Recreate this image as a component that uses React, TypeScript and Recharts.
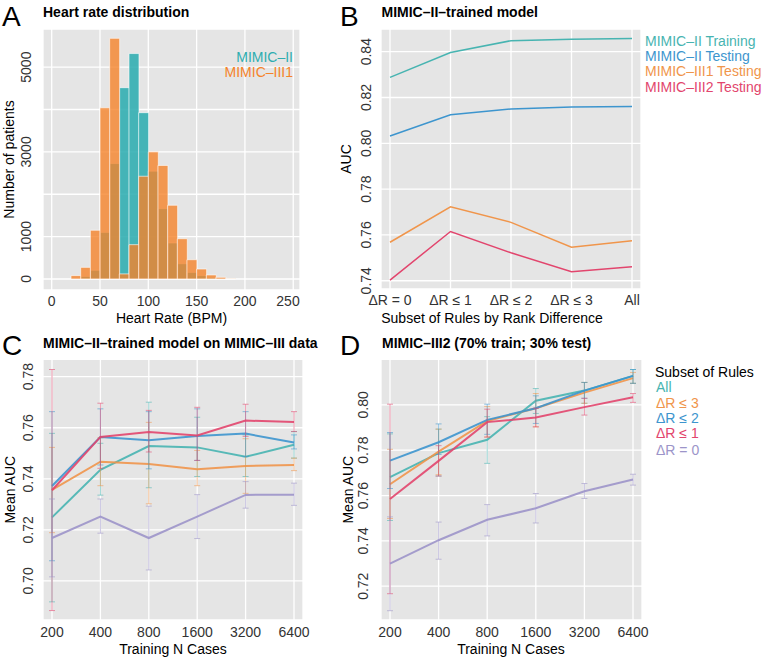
import React from 'react';
import { ComposedChart, LineChart, Line, Bar, XAxis, YAxis, CartesianGrid, ErrorBar } from 'recharts';

const FONT = '"Liberation Sans", Arial, Helvetica, sans-serif';
const PANEL_BG = '#E5E5E5';
const TICK_COLOR = '#333333';

const TEAL = '#47B4B1';
const BLUE = '#3D95CE';
const ORANGE = '#F0954B';
const PINK = '#E2456D';
const PURPLE = '#9C94C9';

// --- A: heart rate histogram (10 BPM bins) ---
const hrBinStart = [20, 30, 40, 50, 60, 70, 80, 90, 100, 110, 120, 130, 140, 150, 160, 170, 180];
const mimic2Counts = [10, 60, 205, 1100, 2725, 4515, 5320, 3925, 2545, 1660, 850, 360, 155, 80, 30, 10, 3];
const mimic3Counts = [80, 275, 1150, 4040, 5680, 120, 810, 2425, 3000, 2680, 1740, 950, 455, 235, 95, 40, 8];
const hrTicks = [0, 50, 100, 150, 200, 250];
const countTicks = [0, 1000, 2000, 3000, 4000, 5000];
const countTickLabels = ['0', '1000', '', '3000', '', '5000'];

// --- B: AUC by rule subset ---
const ruleSubsets = ['ΔR = 0', 'ΔR ≤ 1', 'ΔR ≤ 2', 'ΔR ≤ 3', 'All'];
const m2Training = [0.8288, 0.8396, 0.8448, 0.8454, 0.8457];
const m2Testing = [0.8032, 0.8125, 0.815, 0.8158, 0.8161];
const m3Testing1 = [0.7568, 0.7723, 0.7655, 0.7546, 0.7575];
const m3Testing2 = [0.7403, 0.7615, 0.7522, 0.7439, 0.7461];
const aucTicksB = [0.74, 0.76, 0.78, 0.8, 0.82, 0.84];

// --- C / D: mean AUC vs training size ---
const trainingN = ['200', '400', '800', '1600', '3200', '6400'];
const subsetLabels = ['All', 'ΔR ≤ 3', 'ΔR ≤ 2', 'ΔR ≤ 1', 'ΔR = 0'];

const cAll = [0.7249, 0.7435, 0.7528, 0.7523, 0.7486, 0.7533];
const cAllLow = [0.6918, 0.7336, 0.7365, 0.7409, 0.7409, 0.7481];
const cAllHigh = [0.7578, 0.7539, 0.77, 0.7641, 0.7572, 0.7585];
const cLe3 = [0.7357, 0.7467, 0.7458, 0.7437, 0.745, 0.7454];
const cLe3Low = [0.7189, 0.7373, 0.7302, 0.7373, 0.7343, 0.7432];
const cLe3High = [0.7523, 0.7561, 0.7621, 0.7511, 0.7557, 0.7481];
const cLe2 = [0.7372, 0.7564, 0.7551, 0.7568, 0.7577, 0.7542];
const cLe2Low = [0.7079, 0.7454, 0.7439, 0.7472, 0.7487, 0.7517];
const cLe2High = [0.7663, 0.7674, 0.7663, 0.7674, 0.7663, 0.7572];
const cLe1 = [0.7355, 0.7564, 0.7583, 0.757, 0.7628, 0.7622];
const cLe1Low = [0.6884, 0.7441, 0.7505, 0.7472, 0.7566, 0.7585];
const cLe1High = [0.7828, 0.7696, 0.7668, 0.768, 0.7692, 0.7663];
const cEq0 = [0.7168, 0.7252, 0.7168, 0.7252, 0.7337, 0.7338];
const cEq0Low = [0.7016, 0.7187, 0.7043, 0.7166, 0.7285, 0.7296];
const cEq0High = [0.7321, 0.7321, 0.7293, 0.7338, 0.7389, 0.7383];
const aucTicksC = [0.7, 0.72, 0.74, 0.76, 0.78];

const dAll = [0.7681, 0.7787, 0.7846, 0.8018, 0.8063, 0.8128];
const dAllLow = [0.749, 0.7686, 0.7742, 0.7962, 0.8007, 0.8095];
const dAllHigh = [0.7872, 0.7893, 0.7948, 0.8072, 0.8099, 0.8156];
const dLe3 = [0.765, 0.7794, 0.7929, 0.7985, 0.8054, 0.8118];
const dLe3Low = [0.7499, 0.7692, 0.7858, 0.7903, 0.8007, 0.8095];
const dLe3High = [0.7804, 0.7893, 0.7993, 0.805, 0.8099, 0.8143];
const dLe2 = [0.7754, 0.7835, 0.7934, 0.7985, 0.8063, 0.8128];
const dLe2Low = [0.7631, 0.7781, 0.787, 0.7918, 0.8029, 0.8095];
const dLe2High = [0.7878, 0.7916, 0.8003, 0.804, 0.8099, 0.8156];
const dLe1 = [0.7585, 0.7753, 0.7924, 0.7944, 0.799, 0.8034];
const dLe1Low = [0.7167, 0.7686, 0.7858, 0.7903, 0.7955, 0.8011];
const dLe1High = [0.8003, 0.782, 0.7981, 0.7985, 0.8029, 0.805];
const dEq0 = [0.73, 0.7403, 0.7493, 0.7544, 0.7619, 0.7671];
const dEq0Low = [0.7092, 0.7319, 0.7422, 0.7479, 0.7587, 0.7646];
const dEq0High = [0.7506, 0.7483, 0.756, 0.7609, 0.7653, 0.7694];
const aucTicksD = [0.72, 0.74, 0.76, 0.78, 0.8];

const subsetColors = [TEAL, ORANGE, BLUE, PINK, PURPLE];
const subsetKeys = ['all', 'le3', 'le2', 'le1', 'eq0'];

const histData = hrBinStart.map((s, i) => ({ mid: s + 5, mimic2: mimic2Counts[i], mimic3: mimic3Counts[i] }));

const ruleData = ruleSubsets.map((c, i) => ({
  cat: c,
  train2: m2Training[i],
  test2: m2Testing[i],
  test31: m3Testing1[i],
  test32: m3Testing2[i],
}));

const buildRows = (means: number[][], lows: number[][], highs: number[][]) =>
  trainingN.map((n, i) => {
    const row: any = { n };
    subsetKeys.forEach((k, s) => {
      row[k] = means[s][i];
      row[k + 'Err'] = [means[s][i] - lows[s][i], highs[s][i] - means[s][i]];
    });
    return row;
  });

const cData = buildRows(
  [cAll, cLe3, cLe2, cLe1, cEq0],
  [cAllLow, cLe3Low, cLe2Low, cLe1Low, cEq0Low],
  [cAllHigh, cLe3High, cLe2High, cLe1High, cEq0High]
);
const dData = buildRows(
  [dAll, dLe3, dLe2, dLe1, dEq0],
  [dAllLow, dLe3Low, dLe2Low, dLe1Low, dEq0Low],
  [dAllHigh, dLe3High, dLe2High, dLe1High, dEq0High]
);

const hexA = (hex: string, a: number) => {
  const v = parseInt(hex.slice(1), 16);
  return `rgba(${(v >> 16) & 255},${(v >> 8) & 255},${v & 255},${a})`;
};

const xTick = (dy: number) => (p: any) => (
  <text x={p.x} y={p.y + dy} textAnchor="middle" fontSize={14} fontFamily={FONT} fill={TICK_COLOR}>
    {p.payload.value}
  </text>
);

const yTick = (dx: number, fmt: (v: number) => string) => (p: any) => (
  <text
    transform={`translate(${p.x - dx},${p.y}) rotate(-90)`}
    textAnchor="middle"
    fontSize={14}
    fontFamily={FONT}
    fill={TICK_COLOR}
  >
    {fmt(p.payload.value)}
  </text>
);

const fmtAuc = (v: number) => v.toFixed(2);
const fmtCount = (v: number) => countTickLabels[countTicks.indexOf(v)] ?? String(v);

const axisCommon = { tickLine: false, axisLine: false, tickSize: 0, tickMargin: 0 };

export default function App() {
  // draw order matches the legend: All first, ΔR = 0 last
  const lineSeries = () =>
    subsetKeys.map((k, s) => (
      <Line
        key={k}
        dataKey={k}
        stroke={subsetColors[s]}
        strokeOpacity={0.9}
        strokeWidth={2}
        dot={false}
        activeDot={false}
        isAnimationActive={false}
      >
        <ErrorBar
          dataKey={k + 'Err'}
          width={3}
          stroke={hexA(subsetColors[s], 0.55)}
          strokeWidth={1}
          direction="y"
          isAnimationActive={false}
        />
      </Line>
    ));

  return (
    <div style={{ position: 'absolute', left: 0, top: 0, width: 762, height: 660, background: '#fff', fontFamily: FONT }}>
      {/* A */}
      <div style={{ position: 'absolute', left: 0, top: 0 }}>
        <ComposedChart
          width={300}
          height={330}
          data={histData}
          margin={{ top: 29, right: 0, bottom: 0, left: 0 }}
          barCategoryGap={0}
          barGap={0}
        >
          <CartesianGrid xAxisId="a" fill={PANEL_BG} stroke="#fff" strokeWidth={1.3} />
          <XAxis
            xAxisId="a"
            type="number"
            dataKey="mid"
            domain={[-9, 257]}
            ticks={hrTicks}
            height={40}
            {...axisCommon}
            tick={xTick(16)}
          />
          <XAxis xAxisId="b" type="number" dataKey="mid" domain={[-9, 257]} hide />
          <YAxis
            type="number"
            domain={[-260, 5900]}
            ticks={countTicks}
            width={43}
            {...axisCommon}
            tick={yTick(12, fmtCount)}
          />
          <Bar xAxisId="a" dataKey="mimic2" fill="#2EADB0" fillOpacity={0.88} stroke="#fff" strokeWidth={0.6} isAnimationActive={false} />
          <Bar xAxisId="b" dataKey="mimic3" fill="#F5832A" fillOpacity={0.8} stroke="#fff" strokeWidth={0.6} isAnimationActive={false} />
        </ComposedChart>
      </div>

      {/* B */}
      <div style={{ position: 'absolute', left: 330, top: 0 }}>
        <LineChart width={432} height={330} data={ruleData} margin={{ top: 29, right: 121, bottom: 0, left: 0 }}>
          <CartesianGrid fill={PANEL_BG} stroke="#fff" strokeWidth={1.3} />
          <XAxis dataKey="cat" scale="point" padding={{ left: 9, right: 9 }} height={41} {...axisCommon} tick={xTick(16)} />
          <YAxis type="number" domain={[0.7364, 0.8499]} ticks={aucTicksB} width={51} {...axisCommon} tick={yTick(10.5, fmtAuc)} />
          <Line dataKey="train2" stroke={TEAL} strokeWidth={1.5} dot={false} activeDot={false} isAnimationActive={false} />
          <Line dataKey="test2" stroke={BLUE} strokeWidth={1.5} dot={false} activeDot={false} isAnimationActive={false} />
          <Line dataKey="test31" stroke={ORANGE} strokeWidth={1.5} dot={false} activeDot={false} isAnimationActive={false} />
          <Line dataKey="test32" stroke={PINK} strokeWidth={1.5} dot={false} activeDot={false} isAnimationActive={false} />
        </LineChart>
      </div>

      {/* C */}
      <div style={{ position: 'absolute', left: 0, top: 330 }}>
        <LineChart width={310} height={330} data={cData} margin={{ top: 29.3, right: 7, bottom: 0, left: 0 }}>
          <CartesianGrid fill={PANEL_BG} stroke="#fff" strokeWidth={1.3} />
          <XAxis dataKey="n" scale="point" padding={{ left: 9, right: 9 }} height={40} {...axisCommon} tick={xTick(17)} />
          <YAxis type="number" domain={[0.6847, 0.7868]} ticks={aucTicksC} width={43} {...axisCommon} tick={yTick(10, fmtAuc)} />
          {lineSeries()}
        </LineChart>
      </div>

      {/* D */}
      <div style={{ position: 'absolute', left: 330, top: 330 }}>
        <LineChart width={432} height={330} data={dData} margin={{ top: 29.3, right: 120, bottom: 0, left: 0 }}>
          <CartesianGrid fill={PANEL_BG} stroke="#fff" strokeWidth={1.3} />
          <XAxis dataKey="n" scale="point" padding={{ left: 9, right: 9 }} height={40} {...axisCommon} tick={xTick(17)} />
          <YAxis type="number" domain={[0.7051, 0.8201]} ticks={aucTicksD} width={51} {...axisCommon} tick={yTick(13, fmtAuc)} />
          {lineSeries()}
        </LineChart>
      </div>

      {/* panel letters, titles, axis titles and legends */}
      <svg width={762} height={660} style={{ position: 'absolute', left: 0, top: 0, pointerEvents: 'none' }} fontFamily={FONT}>
        <text x={2} y={26} fontSize={28}>A</text>
        <text x={43} y={16.5} fontSize={14} fontWeight="bold">Heart rate distribution</text>
        <text x={340} y={26} fontSize={28}>B</text>
        <text x={381.5} y={16.5} fontSize={14} fontWeight="bold">MIMIC–II–trained model</text>
        <text x={2} y={355} fontSize={28}>C</text>
        <text x={43} y={347.5} fontSize={14} fontWeight="bold">MIMIC–II–trained model on MIMIC–III data</text>
        <text x={340} y={355} fontSize={28}>D</text>
        <text x={382} y={347.5} fontSize={14} fontWeight="bold">MIMIC–III2 (70% train; 30% test)</text>

        <text transform="translate(14,159.5) rotate(-90)" textAnchor="middle" fontSize={14}>Number of patients</text>
        <text x={171.5} y={323} textAnchor="middle" fontSize={14}>Heart Rate (BPM)</text>
        <text transform="translate(350.5,159) rotate(-90)" textAnchor="middle" fontSize={14}>AUC</text>
        <text x={492} y={322.5} textAnchor="middle" fontSize={14}>Subset of Rules by Rank Difference</text>
        <text transform="translate(14.5,489.7) rotate(-90)" textAnchor="middle" fontSize={14}>Mean AUC</text>
        <text x={173} y={654} textAnchor="middle" fontSize={14}>Training N Cases</text>
        <text transform="translate(353,489.7) rotate(-90)" textAnchor="middle" fontSize={14}>Mean AUC</text>
        <text x={511} y={654} textAnchor="middle" fontSize={14}>Training N Cases</text>

        <text x={293} y={61.5} textAnchor="end" fontSize={14} fill="#2EADB0">MIMIC–II</text>
        <text x={293} y={76.5} textAnchor="end" fontSize={14} fill="#F5832A">MIMIC–III1</text>

        <text x={645} y={46} fontSize={14} fill={TEAL}>MIMIC–II Training</text>
        <text x={645} y={61} fontSize={14} fill={BLUE}>MIMIC–II Testing</text>
        <text x={645} y={76.3} fontSize={14} fill={ORANGE}>MIMIC–III1 Testing</text>
        <text x={645} y={91.5} fontSize={14} fill={PINK}>MIMIC–III2 Testing</text>

        <text x={655} y={376.5} fontSize={14}>Subset of Rules</text>
        {subsetLabels.map((l, i) => (
          <text key={l} x={656} y={[391.5, 408, 423, 438, 455][i]} fontSize={14} fill={subsetColors[i]}>{l}</text>
        ))}
      </svg>
    </div>
  );
}
